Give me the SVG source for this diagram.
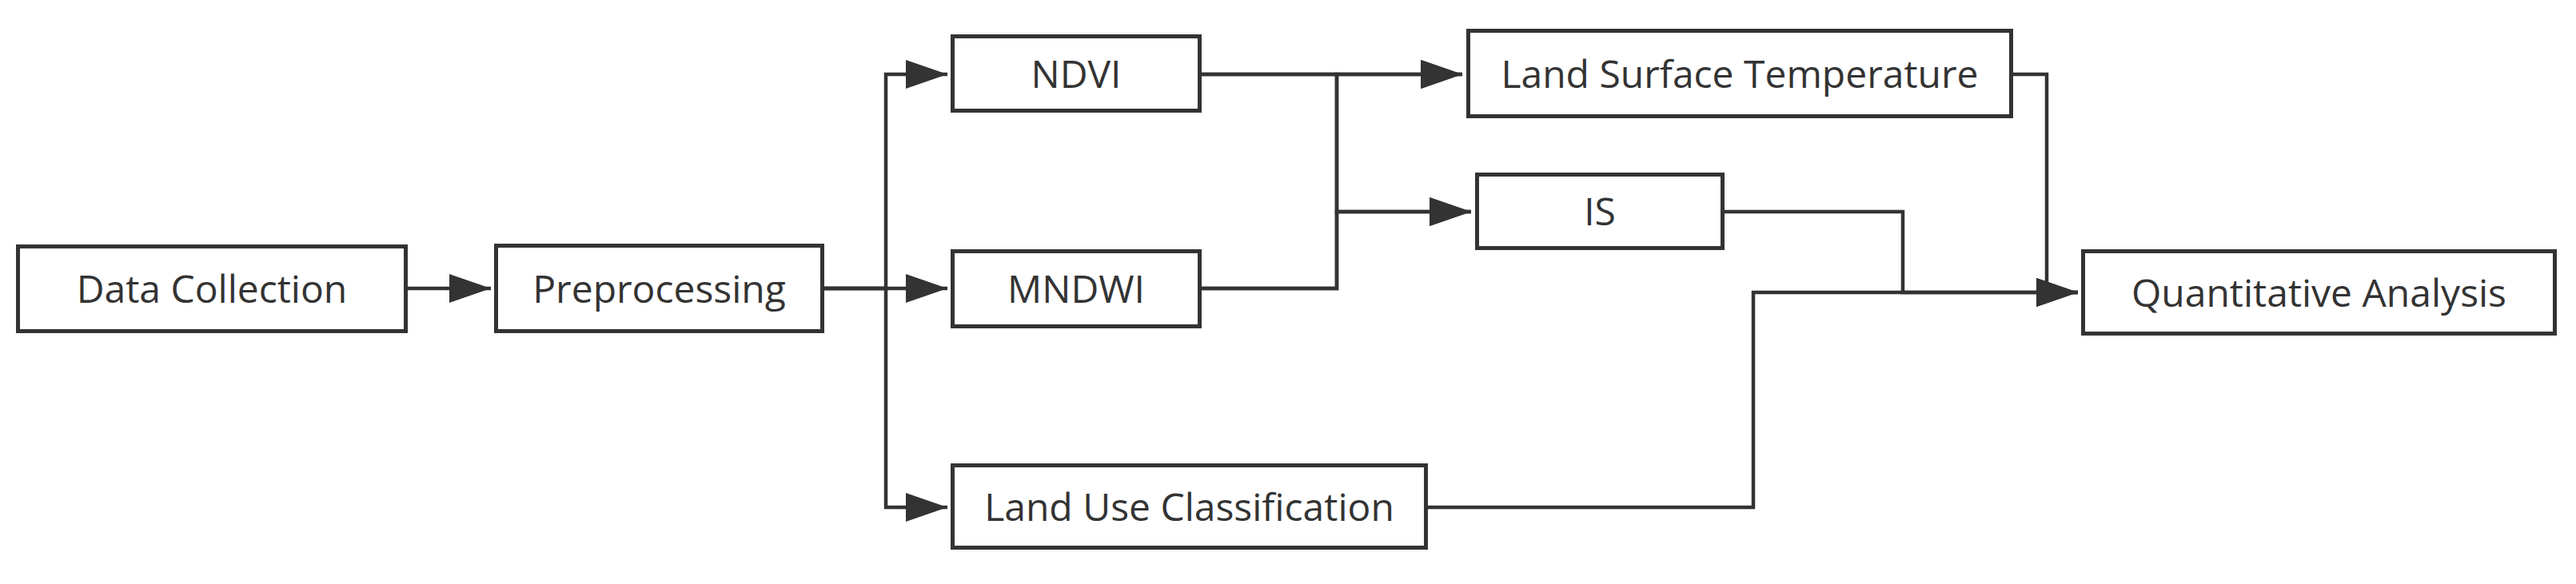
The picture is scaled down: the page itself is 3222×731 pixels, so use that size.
<svg xmlns="http://www.w3.org/2000/svg" width="3222" height="731" viewBox="0 0 3222 731">
<defs>
<marker id="arr" markerUnits="userSpaceOnUse" markerWidth="52" markerHeight="36" refX="52" refY="18" orient="auto">
<path d="M0,0 L52,18 L0,36 Z" fill="#333"/>
</marker>
<style>
.box{fill:#fff;stroke:#333;stroke-width:5}
.lbl{font-family:"Open Sans","Noto Sans","Liberation Sans",sans-serif;font-size:48px;fill:#333;text-anchor:middle}
.c{fill:none;stroke:#333;stroke-width:4.5;marker-end:url(#arr)}
.l{fill:none;stroke:#333;stroke-width:4.5}
</style>
</defs>
<rect width="3222" height="731" fill="#fff"/>
<g id="connectors">
<path class="c" d="M510,361 H614"/>
<path class="c" d="M1031,361 H1108 V93 H1185"/>
<path class="c" d="M1031,361 H1185"/>
<path class="c" d="M1031,361 H1108 V635 H1185"/>
<path class="c" d="M1503,93 H1829"/>
<path class="c" d="M1503,93 H1672 V265 H1840"/>
<path class="c" d="M1503,361 H1672 V93 H1829"/>
<path class="c" d="M1503,361 H1672 V265 H1840"/>
<path class="c" d="M2518,93 H2560 V366 H2599"/>
<path class="c" d="M2157,265 H2380 V366 H2599"/>
<path class="c" d="M1786,635 H2193 V366 H2599"/>
</g>
<g id="data-collection">
<rect class="box" x="22.5" y="308.5" width="485" height="106"/>
<text class="lbl" x="265" y="379">Data Collection</text>
</g>
<g id="preprocessing">
<rect class="box" x="620.5" y="307.5" width="408" height="107"/>
<text class="lbl" x="824.5" y="379">Preprocessing</text>
</g>
<g id="ndvi">
<rect class="box" x="1191.5" y="45.5" width="309" height="93"/>
<text class="lbl" x="1346" y="110">NDVI</text>
</g>
<g id="mndwi">
<rect class="box" x="1191.5" y="314.5" width="309" height="94"/>
<text class="lbl" x="1346" y="379">MNDWI</text>
</g>
<g id="land-use-classification">
<rect class="box" x="1191.5" y="582.5" width="592" height="103"/>
<text class="lbl" x="1487.5" y="652">Land Use Classification</text>
</g>
<g id="land-surface-temperature">
<rect class="box" x="1836.5" y="38.5" width="679" height="107"/>
<text class="lbl" x="2176" y="110">Land Surface Temperature</text>
</g>
<g id="is">
<rect class="box" x="1847.5" y="218.5" width="307" height="92"/>
<text class="lbl" x="2001" y="282">IS</text>
</g>
<g id="quantitative-analysis">
<rect class="box" x="2605.5" y="314.5" width="590" height="103"/>
<text class="lbl" x="2900.5" y="384">Quantitative Analysis</text>
</g>
</svg>
